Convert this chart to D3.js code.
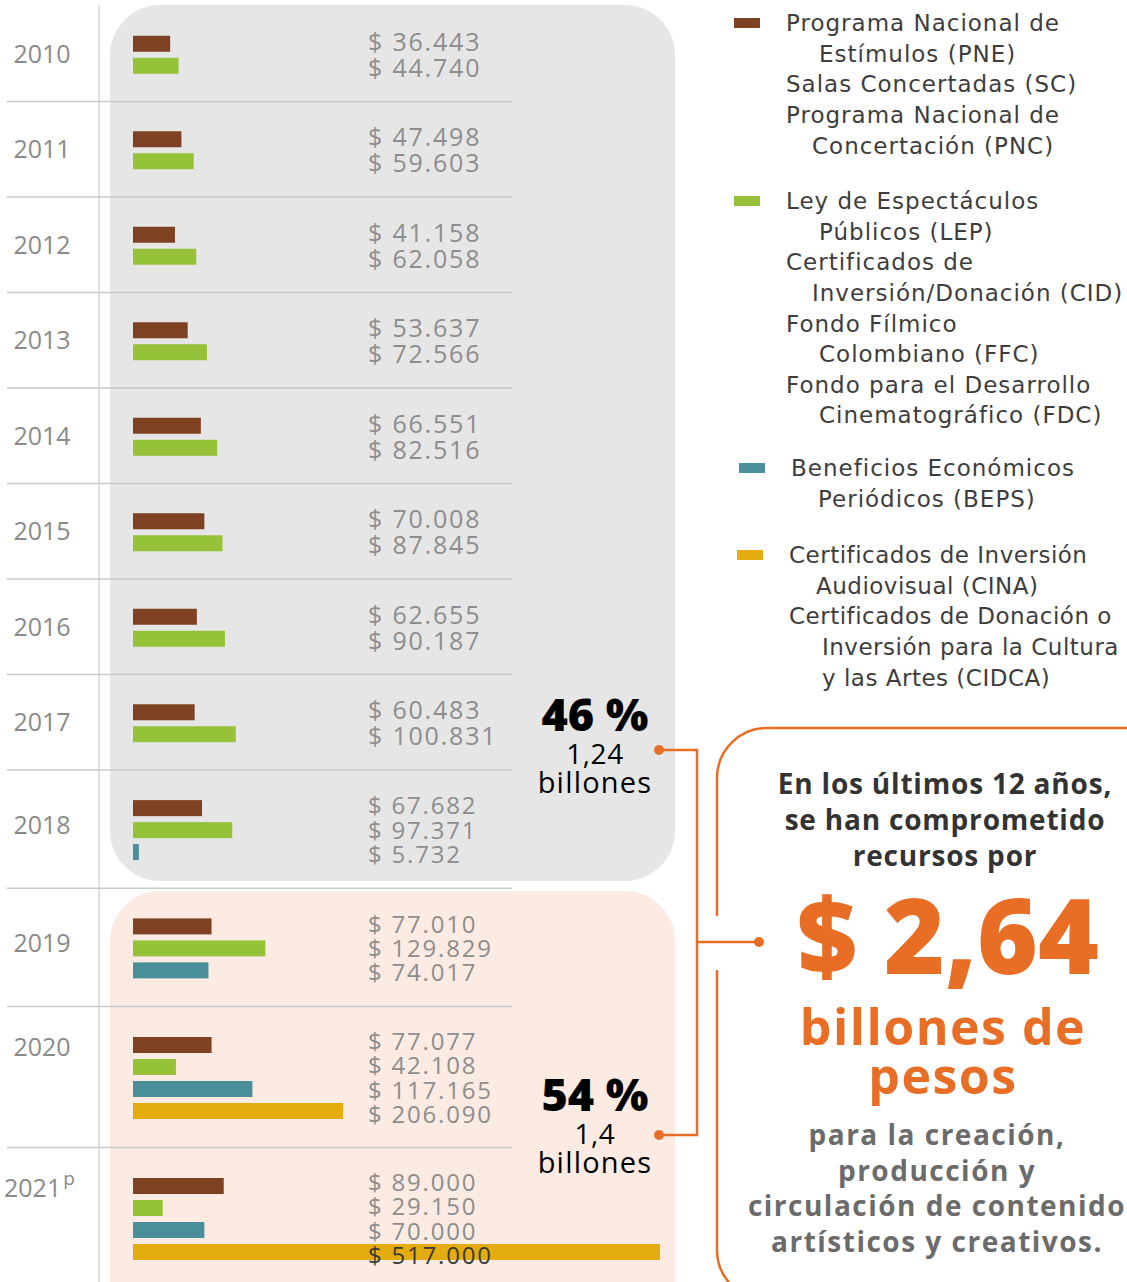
<!DOCTYPE html>
<html>
<head>
<meta charset="utf-8">
<script src="https://cdn.jsdelivr.net/npm/d3@7"></script>
<style>
  body { margin: 0; background: #fff; }
  svg { display: block; font-family: "Open Sans", sans-serif; }
</style>
</head>
<body>
<svg id="chart" width="1127" height="1282"></svg>
<script>
// datos (millones de pesos)
const years = ['2010', '2011', '2012', '2013', '2014', '2015', '2016', '2017', '2018', '2019', '2020', '2021'];
const pne  = [36443, 47498, 41158, 53637, 66551, 70008, 62655, 60483, 67682, 77010, 77077, 89000];
const lep  = [44740, 59603, 62058, 72566, 82516, 87845, 90187, 100831, 97371, 129829, 42108, 29150];
const beps = [null, null, null, null, null, null, null, null, 5732, 74017, 117165, 70000];
const cina = [null, null, null, null, null, null, null, null, null, null, 206090, 517000];
const seriesColors = ['#7e4222', '#96c23a', '#4a8e9a', '#e5ac10'];

const legendGroups = [
  {lines: [['Programa Nacional de', 0], ['Estímulos (PNE)', 33], ['Salas Concertadas (SC)', 0], ['Programa Nacional de', 0], ['Concertación (PNC)', 26]]},
  {lines: [['Ley de Espectáculos', 0], ['Públicos (LEP)', 33], ['Certificados de', 0], ['Inversión/Donación (CID)', 26], ['Fondo Fílmico', 0], ['Colombiano (FFC)', 33], ['Fondo para el Desarrollo', 0], ['Cinematográfico (FDC)', 33]]},
  {lines: [['Beneficios Económicos', 0], ['Periódicos (BEPS)', 27]]},
  {lines: [['Certificados de Inversión', 0], ['Audiovisual (CINA)', 27], ['Certificados de Donación o', 0], ['Inversión para la Cultura', 33], ['y las Artes (CIDCA)', 33]]}
];
const shares = [{pct: '46 %', amount: '1,24', unit: 'billones'}, {pct: '54 %', amount: '1,4', unit: 'billones'}];
const totalText = ['En los últimos 12 años,', 'se han comprometido', 'recursos por'];
const totalValue = '$ 2,64';
const totalUnit = ['billones de', 'pesos'];
const purposeText = ['para la creación,', 'producción y', 'circulación de contenido', 'artísticos y creativos.'];

const svg = d3.select('#chart');
const orange = '#e86e25';

// filas: cada año con sus barras
let rows = [];
let rowTop = 6;
years.forEach(function (y, i) {
    let vals = [pne[i], lep[i], beps[i], cina[i]]
        .map((v, k) => ({v: v, k: k}))
        .filter(d => d.v != null);
    let h = 50 + 22.75 * vals.length;
    rows.push({year: y, vals: vals, top: rowTop, h: h});
    rowTop += h;
});

// cajas de fondo
svg.append('rect').attr('x', 110).attr('y', 5).attr('width', 565).attr('height', 876)
    .attr('rx', 50).attr('fill', '#e6e6e6');
svg.append('rect').attr('x', 110).attr('y', 891).attr('width', 565).attr('height', 460)
    .attr('rx', 50).attr('fill', '#fbebe3');

// línea vertical
svg.append('line').attr('x1', 99).attr('x2', 99).attr('y1', 5).attr('y2', 1282)
    .attr('stroke', '#d4d4d4').attr('stroke-width', 1.5);

// separadores
svg.selectAll('.sep').data(rows.slice(1)).enter().append('line')
    .attr('x1', 7).attr('x2', 512)
    .attr('y1', d => d.top).attr('y2', d => d.top)
    .attr('stroke', '#c9c9c9').attr('stroke-width', 1.5);

const x = d3.scaleLinear().domain([0, 517000]).range([133, 660]);
const locale = d3.formatLocale({decimal: ',', thousands: '.', grouping: [3], currency: ['$ ', '']});
const fmt = locale.format('$,');

const barH = 16, barStep = 22;

rows.forEach(function (r) {
    let n = r.vals.length;
    let groupH = (n - 1) * barStep + barH;
    let gTop = r.top + (r.h - groupH) / 2 + 1;
    let labelStep = n === 2 ? 26 : 24.3;
    let center = gTop + groupH / 2;

    let g = svg.append('g');
    g.selectAll('rect').data(r.vals).enter().append('rect')
        .attr('x', x(0))
        .attr('y', (d, i) => gTop + i * barStep)
        .attr('width', d => x(d.v) - x(0))
        .attr('height', barH)
        .attr('fill', d => seriesColors[d.k]);

    g.selectAll('text').data(r.vals).enter().append('text')
        .attr('x', 368)
        .attr('y', (d, i) => center + (i - (n - 1) / 2) * labelStep)
        .attr('dy', '0.36em')
        .attr('font-size', n === 2 ? 25 : 24)
        .attr('letter-spacing', 1.8)
        .attr('fill', d => x(d.v) > 368 ? '#3a3a3a' : '#8d8d8d')
        .text(d => fmt(d.v));

    let yOff = n === 2 ? r.h / 2 : (n === 3 ? 55 : 40);
    let yt = svg.append('text')
        .attr('x', r.year === '2021' ? 4 : 42)
        .attr('y', r.top + yOff)
        .attr('dy', '0.36em')
        .attr('text-anchor', r.year === '2021' ? 'start' : 'middle')
        .attr('font-size', 25)
        .attr('fill', '#8a8a8a');
    yt.append('tspan').text(r.year);
    if (r.year === '2021') {
        yt.append('tspan').attr('dx', 2).attr('dy', '-0.6em').attr('font-size', 19).text('p');
    }
});

// leyenda
const legendTops = [23, 201, 468, 555];
const legendX = [786, 786, 791, 789];
const swatchX = [734, 734, 739, 737];
const legendSpacing = [1.0, 1.0, 1.0, 0.5];
legendGroups.forEach(function (grp, gi) {
    svg.append('rect').attr('x', swatchX[gi]).attr('y', legendTops[gi] - 5)
        .attr('width', 26).attr('height', 10).attr('fill', seriesColors[gi]);
    svg.append('g').selectAll('text').data(grp.lines).enter().append('text')
        .attr('x', d => legendX[gi] + d[1])
        .attr('y', (d, i) => legendTops[gi] + i * 30.6)
        .attr('dy', '0.36em')
        .attr('font-family', '"DejaVu Sans", sans-serif')
        .attr('font-size', 23)
        .attr('letter-spacing', legendSpacing[gi])
        .attr('fill', '#3d3d3d')
        .text(d => d[0]);
});

// porcentajes
const shareY = [715, 1095];
shares.forEach(function (s, i) {
    let g = svg.append('g').attr('text-anchor', 'middle').attr('fill', '#000');
    g.append('text').attr('x', 595).attr('y', shareY[i]).attr('dy', '0.36em')
        .attr('font-size', 45).attr('font-weight', 800).text(s.pct);
    g.append('text').attr('x', 595).attr('y', shareY[i] + 39).attr('dy', '0.36em')
        .attr('font-size', 28).attr('letter-spacing', 0.5).text(s.amount);
    g.append('text').attr('x', 595).attr('y', shareY[i] + 68).attr('dy', '0.36em')
        .attr('font-size', 29).attr('letter-spacing', 1.2).text(s.unit);
});

// conectores
svg.append('path').attr('d', 'M659,750 H697 V1135 H659 M697,942 H759')
    .attr('fill', 'none').attr('stroke', orange).attr('stroke-width', 2.5);
svg.selectAll('.dot').data([[659, 750], [659, 1135], [759, 942]]).enter().append('circle')
    .attr('cx', d => d[0]).attr('cy', d => d[1]).attr('r', 5).attr('fill', orange);

// caja naranja
svg.append('path')
    .attr('d', 'M1140,728 H767 A50,50 0 0 0 717,778 V916 M717,970 V1250 A50,50 0 0 0 767,1300')
    .attr('fill', 'none').attr('stroke', orange).attr('stroke-width', 2.5);

const cx = 945;
svg.append('g').selectAll('text').data(totalText).enter().append('text')
    .attr('x', cx).attr('y', (d, i) => 784 + i * 36).attr('dy', '0.36em')
    .attr('text-anchor', 'middle').attr('font-size', 28).attr('font-weight', 700)
    .attr('letter-spacing', 0.8)
    .attr('fill', '#333').text(d => d);

svg.append('text').attr('x', 948).attr('y', 937).attr('dy', '0.36em')
    .attr('text-anchor', 'middle').attr('font-size', 104).attr('font-weight', 800)
    .attr('fill', orange).text(totalValue);

svg.append('g').selectAll('text').data(totalUnit).enter().append('text')
    .attr('x', 943).attr('y', (d, i) => 1027 + i * 49).attr('dy', '0.36em')
    .attr('text-anchor', 'middle').attr('font-size', 50).attr('font-weight', 700)
    .attr('letter-spacing', 1.5)
    .attr('fill', orange).text(d => d);

svg.append('g').selectAll('text').data(purposeText).enter().append('text')
    .attr('x', 937).attr('y', (d, i) => 1135 + i * 35.7).attr('dy', '0.36em')
    .attr('text-anchor', 'middle').attr('font-size', 28).attr('font-weight', 700)
    .attr('letter-spacing', 1.5)
    .attr('fill', '#6b6b6b').text(d => d);
</script>
</body>
</html>
